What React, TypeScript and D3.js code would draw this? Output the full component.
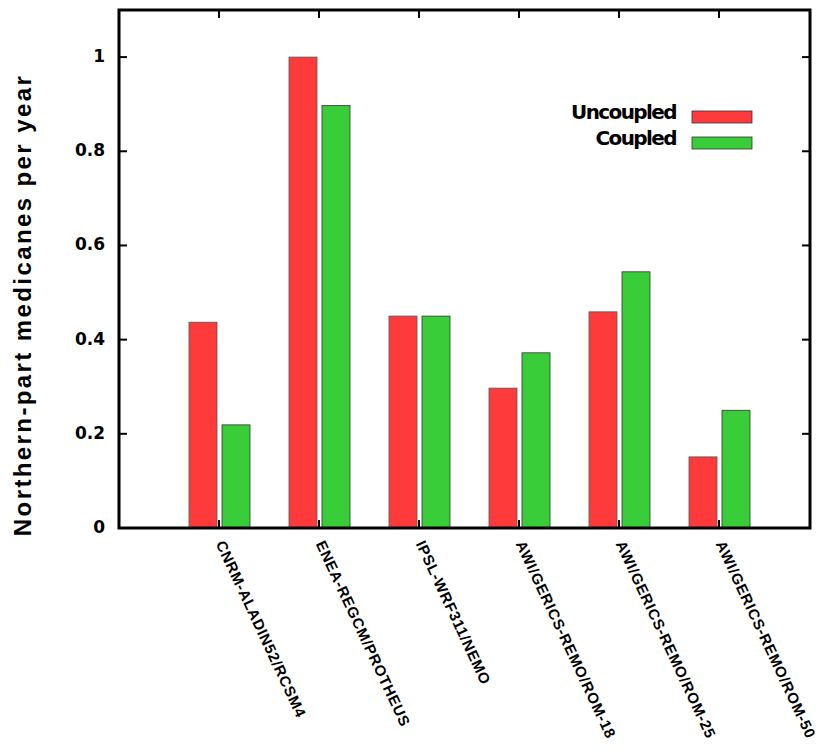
import * as d3 from "d3";

const models = [
  "CNRM-ALADIN52/RCSM4",
  "ENEA-REGCM/PROTHEUS",
  "IPSL-WRF311/NEMO",
  "AWI/GERICS-REMO/ROM-18",
  "AWI/GERICS-REMO/ROM-25",
  "AWI/GERICS-REMO/ROM-50",
];
const uncoupled = [0.437, 1.0, 0.45, 0.297, 0.459, 0.151];
const coupled = [0.219, 0.897, 0.45, 0.372, 0.544, 0.25];
const yTicks = [0, 0.2, 0.4, 0.6, 0.8, 1];
const seriesNames = ["Uncoupled", "Coupled"];
const seriesColors = ["#ff3a3a", "#3acd3a"];

function App() {
  const width = 819;
  const height = 754;
  const margin = { top: 10, right: 9, bottom: 226, left: 119 };
  const innerW = width - margin.left - margin.right;
  const innerH = height - margin.top - margin.bottom;

  const x = d3.scaleLinear().domain([0, 6.91]).range([0, innerW]);
  const y = d3.scaleLinear().domain([0, 1.1]).range([innerH, 0]);
  const barW = 28;
  const tickLen = 8;

  return (
    <svg
      width={width}
      height={height}
      style={{ position: "absolute", left: 0, top: 0, background: "#fff" }}
    >
      <g transform={`translate(${margin.left},${margin.top})`}>
        {models.map((m, i) => {
          const cx = x(i + 1);
          return (
            <g key={m}>
              <rect
                x={cx - 2 - barW}
                y={y(uncoupled[i])}
                width={barW}
                height={innerH - y(uncoupled[i])}
                fill={seriesColors[0]}
                stroke="#555"
                strokeWidth={0.8}
              />
              <rect
                x={cx + 3}
                y={y(coupled[i])}
                width={barW}
                height={innerH - y(coupled[i])}
                fill={seriesColors[1]}
                stroke="#333"
                strokeWidth={0.8}
              />
              {/* ticks bottom and top */}
              <line x1={cx} x2={cx} y1={innerH} y2={innerH - tickLen} stroke="#000" strokeWidth={2} />
              <line x1={cx} x2={cx} y1={0} y2={tickLen} stroke="#000" strokeWidth={2} />
              <text
                transform={`translate(${cx},${innerH + 14}) rotate(65)`}
                fontFamily="Liberation Sans, Arial, sans-serif"
                fontWeight="bold"
                fontSize={15}
                letterSpacing={0.7}
                dominantBaseline="middle"
              >
                {m}
              </text>
            </g>
          );
        })}

        {yTicks.map((t) => (
          <g key={t}>
            <line x1={0} x2={tickLen} y1={y(t)} y2={y(t)} stroke="#000" strokeWidth={2} />
            <line x1={innerW} x2={innerW - tickLen} y1={y(t)} y2={y(t)} stroke="#000" strokeWidth={2} />
            <text
              x={-14}
              y={y(t)}
              textAnchor="end"
              dominantBaseline="middle"
              fontFamily="DejaVu Sans, sans-serif"
              fontWeight="bold"
              fontSize={17}
            >
              {String(t)}
            </text>
          </g>
        ))}

        <rect x={0} y={0} width={innerW} height={innerH} fill="none" stroke="#000" strokeWidth={3} />

        <text
          transform={`translate(${-88},${innerH / 2 + 36}) rotate(-90)`}
          textAnchor="middle"
          fontFamily="Liberation Sans, Arial, sans-serif"
          fontWeight="bold"
          fontSize={24}
          letterSpacing={2.4}
        >
          Northern-part medicanes per year
        </text>

        {seriesNames.map((s, i) => (
          <g key={s} transform={`translate(0,${101 + i * 26})`}>
            <text
              x={557}
              y={2}
              textAnchor="end"
              dominantBaseline="middle"
              fontFamily="DejaVu Sans, sans-serif"
              fontWeight="bold"
              fontSize={20}
              letterSpacing={-1.6}
            >
              {s}
            </text>
            <rect x={573} y={0} width={60} height={12} fill={seriesColors[i]} stroke="#333" strokeWidth={0.8} />
          </g>
        ))}
      </g>
    </svg>
  );
}

export default App;
